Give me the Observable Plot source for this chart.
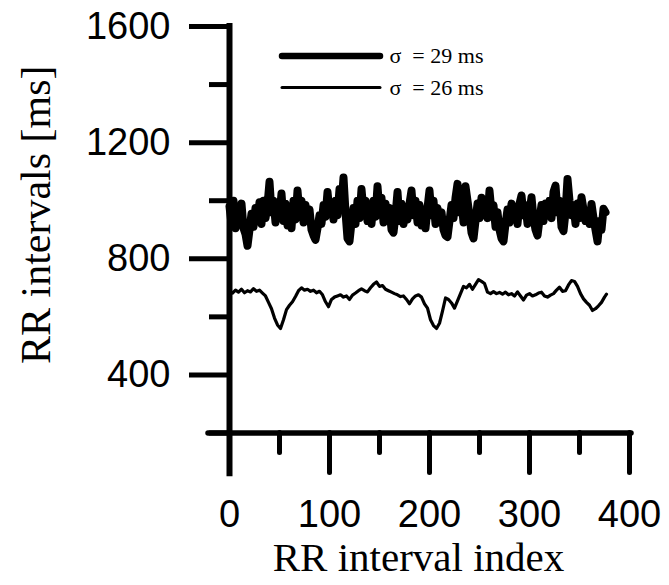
<!DOCTYPE html>
<html>
<head>
<meta charset="utf-8">
<script src="https://cdn.jsdelivr.net/npm/d3@7"></script>
<script src="https://cdn.jsdelivr.net/npm/@observablehq/plot@0.6"></script>
<style>
  html, body { margin: 0; padding: 0; background: #fff; }
  #chart { width: 669px; height: 585px; }
</style>
</head>
<body>
<div id="chart"></div>
<script>
// ---- Data ----
// Thick series (sigma = 29 ms), sampled every 2nd RR index starting at 0
const thickStep = 2;
const thickValues = [
  980, 920, 1000, 905, 960, 930, 990, 905, 885, 845,
  900, 955, 910, 975, 935, 995, 920, 1000, 940, 985,
  1065, 960, 1000, 925, 985, 945, 1025, 930, 990, 915,
  960, 905, 1000, 935, 1035, 955, 1000, 925, 985, 940,
  970, 900, 880, 865, 905, 950, 920, 985, 945, 1030,
  960, 995, 935, 1000, 950, 1040, 985, 1080, 960, 870,
  860, 925, 975, 920, 1000, 940, 1040, 960, 1000, 930,
  985, 920, 1000, 945, 1050, 960, 1010, 925, 990, 935,
  975, 900, 890, 950, 1030, 930, 990, 920, 975, 935,
  990, 1035, 950, 1000, 925, 985, 915, 970, 905, 975,
  1035, 950, 1000, 920, 975, 940, 960, 900, 880, 875,
  930, 985, 940, 1010, 1058, 960, 1000, 925, 1050, 1000,
  950, 890, 870, 930, 990, 940, 1010, 950, 1000, 940,
  1035, 960, 985, 910, 960, 900, 870, 860, 920, 970,
  925, 990, 935, 975, 920, 990, 1018, 950, 985, 920,
  960, 1012, 940, 900, 880, 935, 985, 930, 990, 950,
  1000, 940, 1030, 1052, 960, 1000, 910, 895, 960, 1075,
  1000, 950, 985, 920, 990, 940, 1012, 970, 930, 960,
  920, 989, 940, 900, 860, 930, 900, 972, 960
];
// Thin series (sigma = 26 ms): RR index and value
const thinIndex = [
  0, 3, 6, 9, 12, 15, 18, 21, 24, 27, 30, 33, 36, 39, 42, 45, 48, 51, 54, 57,
  60, 63, 66, 69, 72, 75, 78, 81, 84, 87, 90, 93, 96, 99, 102, 105, 108, 111, 114, 117,
  120, 123, 126, 129, 132, 135, 138, 141, 144, 147, 150, 153, 156, 159, 162, 165, 168, 171, 174, 177,
  180, 183, 186, 189, 192, 195, 198, 201, 204, 207, 210, 213, 216, 219, 222, 225, 228, 231, 234, 237,
  240, 243, 246, 249, 252, 255, 258, 261, 264, 267, 270, 273, 276, 279, 282, 285, 288, 291, 294, 297,
  300, 303, 306, 309, 312, 315, 318, 321, 324, 327, 330, 333, 336, 339, 342, 345, 348, 351, 354, 357,
  360, 363, 366, 369, 372, 375, 377
];
const thinValues = [
  690, 682, 692, 685, 695, 683, 690, 686, 697, 688, 692, 682, 672, 650, 628, 596, 572, 560, 590, 625,
  640, 652, 670, 690, 700, 692, 695, 688, 692, 683, 688, 676, 652, 635, 660, 668, 672, 676, 668, 672,
  660, 675, 682, 690, 696, 690, 686, 700, 712, 720, 705, 708, 695, 690, 685, 680, 676, 670, 672, 660,
  645, 662, 672, 676, 668, 645, 630, 590, 570, 560, 578, 620, 665, 660, 648, 630, 655, 680, 705, 700,
  712, 695, 712, 728, 722, 715, 685, 680, 687, 680, 684, 678, 685, 676, 680, 672, 686, 672, 658, 675,
  680, 672, 676, 682, 685, 672, 668, 675, 680, 692, 702, 688, 690, 710, 725, 722, 705, 680, 662, 650,
  640, 622, 628, 638, 650, 668, 678
];
const xTicksMajor = [0, 100, 200, 300, 400];
const xTicksMinor = [50, 150, 250, 350];
const yTicksMajor = [400, 800, 1200, 1600];
const yTicksMinor = [200, 600, 1000, 1400];
const legendLabels = ["\u03c3\u00a0 = 29 ms", "\u03c3\u00a0 = 26 ms"];
const xTitle = "RR interval index";
const yTitle = "RR intervals [ms]";

// ---- Tables built from the arrays ----
const thick = thickValues.map((v, i) => ({i: i * thickStep, v}));
const thin = thinIndex.map((idx, k) => ({i: idx, v: thinValues[k]}));

const sans = "Liberation Sans, Arial, Helvetica, sans-serif";
const serif = "Liberation Serif, Times New Roman, Times, serif";

const chart = Plot.plot({
  width: 669,
  height: 585,
  marginLeft: 229,
  marginRight: 40,
  marginTop: 26,
  marginBottom: 152.5,
  style: {background: "#fff", color: "#000", fontFamily: sans, fontSize: "38px", overflow: "visible"},
  x: {domain: [0, 400]},
  y: {domain: [200, 1600]},
  marks: [
    // data
    Plot.line(thin, {x: "i", y: "v", stroke: "#000", strokeWidth: 3.2, strokeLinejoin: "round", strokeLinecap: "round"}),
    Plot.line(thick, {x: "i", y: "v", stroke: "#000", strokeWidth: 8, strokeLinejoin: "round", strokeLinecap: "round"}),
    // axis lines
    Plot.ruleX([0], {y1: 60, y2: 1600, stroke: "#000", strokeWidth: 6, strokeLinecap: "square"}),
    Plot.ruleY([200], {x1: -21, x2: 402, stroke: "#000", strokeWidth: 5.5, strokeLinecap: "round"}),
    // y axis ticks and labels
    Plot.axisY(yTicksMajor, {anchor: "left", tickSize: 40, tickPadding: 19, strokeWidth: 5, label: null,
      fontSize: 38, fontFamily: sans, tickFormat: d => String(d)}),
    Plot.axisY(yTicksMinor, {anchor: "left", tickSize: 20, strokeWidth: 5, label: null, tickFormat: () => ""}),
    // x axis ticks and labels
    Plot.axisX(xTicksMajor, {anchor: "bottom", tickSize: 40, tickPadding: 27, strokeWidth: 5, label: null,
      fontSize: 38, fontFamily: sans, tickFormat: d => String(d), strokeLinecap: "round"}),
    Plot.axisX(xTicksMinor, {anchor: "bottom", tickSize: 20, strokeWidth: 5, label: null, tickFormat: () => "", strokeLinecap: "round"}),
    // axis titles
    Plot.text([xTitle], {frameAnchor: "bottom", textAnchor: "middle", lineAnchor: "middle", dx: -11, dy: 125,
      fontSize: 41, fontFamily: serif, fill: "#000"}),
    Plot.text([yTitle], {frameAnchor: "left", textAnchor: "middle", lineAnchor: "middle", rotate: -90, dx: -193, dy: -15,
      fontSize: 42, fontFamily: serif, fill: "#000"}),
    // legend
    Plot.ruleY(legendLabels, {y: (d, k) => 1498 - k * 108, x1: 53, x2: 151, stroke: "#000",
      strokeWidth: (d, k) => k === 0 ? 6.5 : 3, strokeLinecap: "round"}),
    Plot.text(legendLabels, {x: 160, y: (d, k) => 1498 - k * 108, textAnchor: "start", lineAnchor: "middle",
      fontSize: 22, fontFamily: serif, fill: "#000"})
  ]
});
document.getElementById("chart").appendChild(chart);
</script>
</body>
</html>
